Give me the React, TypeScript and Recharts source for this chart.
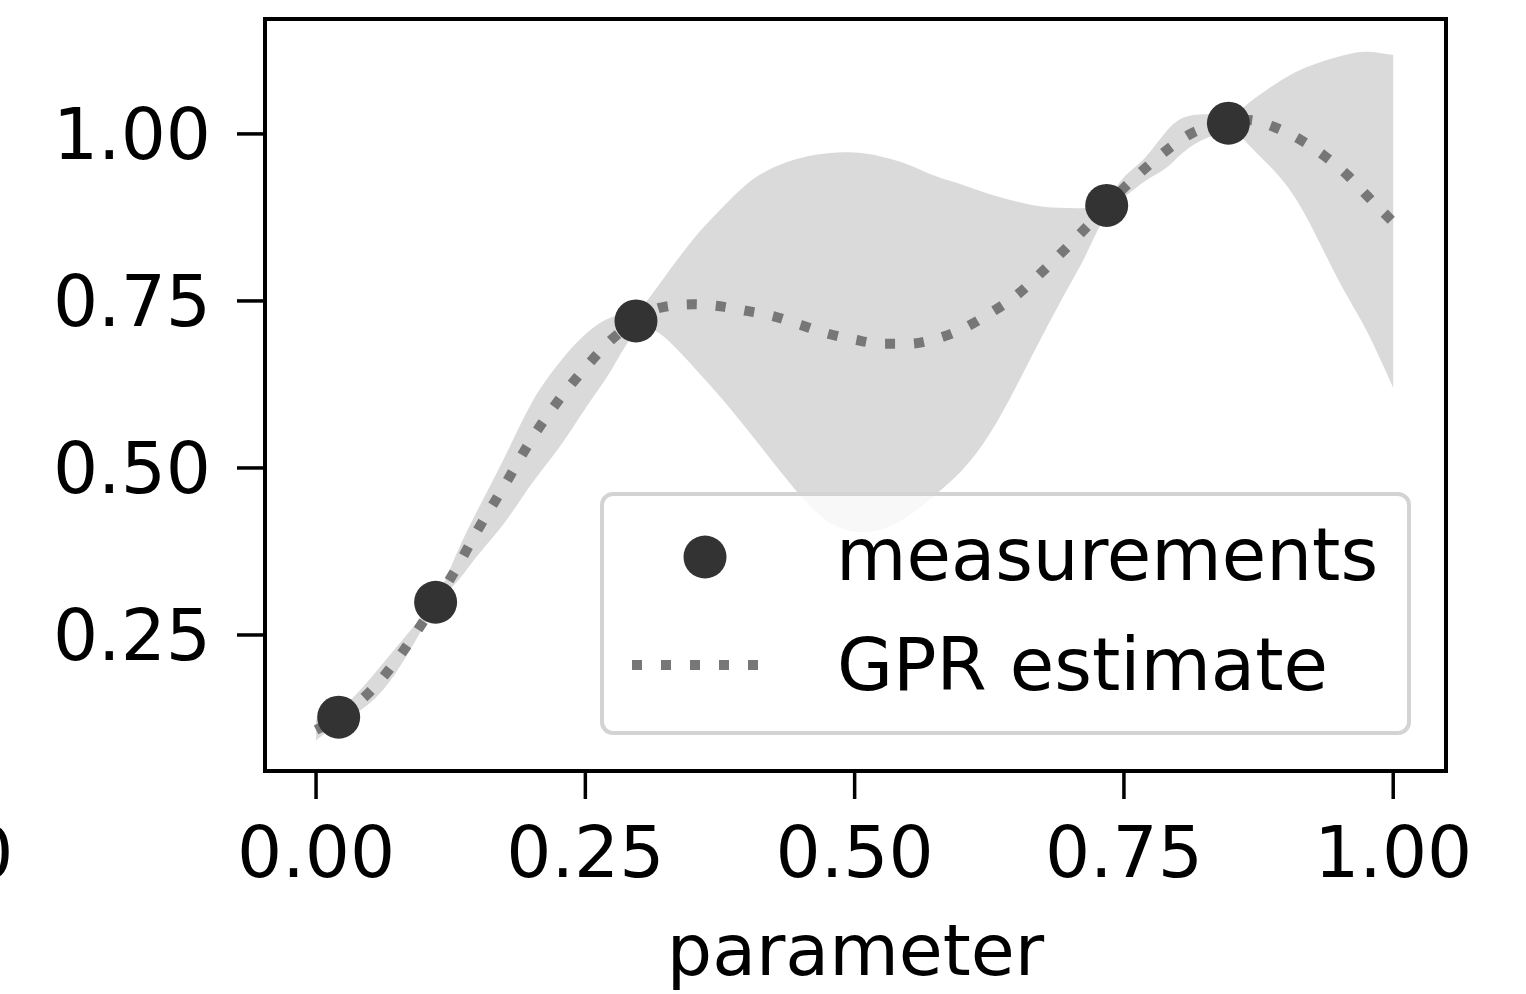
import React from 'react';
import { ComposedChart, Area, Line, Scatter, XAxis, YAxis, ReferenceArea, Legend } from 'recharts';

// grid where the GPR estimate and its band were read off
const gridX = [0, 0.021, 0.05, 0.08, 0.111, 0.13, 0.15, 0.175, 0.2, 0.225, 0.25, 0.275, 0.297, 0.32, 0.35, 0.375, 0.4, 0.425, 0.45, 0.475, 0.5, 0.525, 0.55, 0.575, 0.6, 0.625, 0.65, 0.675, 0.7, 0.715, 0.734, 0.75, 0.77, 0.79, 0.813, 0.847, 0.865, 0.89, 0.914, 0.937, 0.957, 0.976, 1.0];
const gprMean = [0.108, 0.127, 0.165, 0.224, 0.299, 0.349, 0.407, 0.474, 0.543, 0.601, 0.65, 0.693, 0.72, 0.74, 0.745, 0.742, 0.735, 0.727, 0.714, 0.701, 0.692, 0.686, 0.686, 0.693, 0.708, 0.731, 0.758, 0.795, 0.835, 0.86, 0.893, 0.919, 0.949, 0.976, 1.001, 1.016, 1.021, 1.01, 0.991, 0.966, 0.939, 0.907, 0.868];
const bandLow = [0.092, 0.117, 0.148, 0.208, 0.292, 0.328, 0.369, 0.418, 0.476, 0.529, 0.589, 0.649, 0.703, 0.7, 0.652, 0.607, 0.558, 0.507, 0.458, 0.42, 0.405, 0.408, 0.428, 0.46, 0.497, 0.55, 0.622, 0.7, 0.775, 0.82, 0.88, 0.905, 0.93, 0.95, 0.982, 1.003, 0.985, 0.944, 0.891, 0.82, 0.758, 0.703, 0.62];
const bandHigh = [0.124, 0.137, 0.184, 0.242, 0.306, 0.37, 0.437, 0.516, 0.597, 0.656, 0.7, 0.726, 0.735, 0.778, 0.842, 0.886, 0.925, 0.95, 0.964, 0.971, 0.972, 0.966, 0.954, 0.937, 0.924, 0.91, 0.899, 0.891, 0.889, 0.89, 0.905, 0.935, 0.965, 1.005, 1.028, 1.03, 1.045, 1.074, 1.096, 1.11, 1.119, 1.123, 1.118];

const measX = [0.021, 0.111, 0.297, 0.734, 0.847];
const measY = [0.127, 0.299, 0.72, 0.893, 1.016];

const xTicks = [0, 0.25, 0.5, 0.75, 1.0];
const yTicks = [0.25, 0.5, 0.75, 1.0];

const FONT = 'DejaVu Sans';

const curve = gridX.map((x, i) => ({ x, mean: gprMean[i], band: [bandLow[i], bandHigh[i]] }));
const points = measX.map((x, i) => ({ x, y: measY[i] }));

const LegendBox = () => (
  <svg width={811} height={243} style={{ display: 'block' }}>
    <rect x={2} y={2} width={807} height={239} rx={11} ry={11} fill="rgba(255,255,255,0.8)" stroke="#d3d3d3" strokeWidth={4} />
    <circle cx={105} cy={65} r={21.5} fill="#333" />
    <line x1={32} y1={173} x2={176} y2={173} stroke="#777" strokeWidth={10} strokeDasharray="10 19" />
    <text x={236} y={88} fontSize={72.3} fontFamily={FONT} fill="#000">measurements</text>
    <text x={237} y={198} fontSize={72.3} fontFamily={FONT} fill="#000">GPR estimate</text>
  </svg>
);

export default function App() {
  const tickStyle = { fontSize: 71, fill: '#000', fontFamily: FONT };
  const tickLine = { stroke: '#000', strokeWidth: 3.5 };
  return (
    <div style={{ position: 'absolute', left: 0, top: 0, width: 1526, height: 994, background: '#fff', overflow: 'hidden' }}>
      <ComposedChart width={1526} height={994} margin={{ top: 19, right: 80, bottom: 0, left: 0 }}>
        <XAxis
          dataKey="x"
          type="number"
          domain={[-0.0474, 1.049]}
          allowDataOverflow
          ticks={xTicks}
          interval={0}
          tickFormatter={(v) => v.toFixed(2)}
          axisLine={false}
          tickLine={tickLine}
          tickSize={28}
          tickMargin={28}
          tick={tickStyle}
          height={223}
          label={{ value: 'parameter', position: 'insideBottom', offset: 19, fontSize: 71.5, fill: '#000', fontFamily: FONT }}
        />
        <YAxis
          type="number"
          domain={[0.0464, 1.172]}
          allowDataOverflow
          ticks={yTicks}
          interval={0}
          tickFormatter={(v) => v.toFixed(2)}
          axisLine={false}
          tickLine={tickLine}
          tickSize={28}
          tickMargin={26}
          tick={tickStyle}
          width={265}
        />
        <Area
          data={curve}
          type="natural"
          dataKey="band"
          fill="#dadada"
          fillOpacity={1}
          stroke="none"
          isAnimationActive={false}
          legendType="none"
        />
        <Scatter
          data={points}
          dataKey="y"
          isAnimationActive={false}
          shape={(p: any) => <circle cx={p.cx} cy={p.cy} r={21.5} fill="#333" />}
        />
        <Line
          data={curve}
          type="monotone"
          dataKey="mean"
          stroke="#777"
          strokeWidth={10}
          strokeDasharray="10 19"
          dot={false}
          activeDot={false}
          isAnimationActive={false}
        />
        <ReferenceArea
          x1={-0.0474}
          x2={1.049}
          y1={0.0464}
          y2={1.172}
          fill="none"
          stroke="#000"
          strokeWidth={4}
          ifOverflow="visible"
        />
        <Legend
          layout="horizontal"
          verticalAlign="middle"
          align="center"
          content={() => <LegendBox />}
          wrapperStyle={{ position: 'absolute', left: 600, top: 492, bottom: 'auto', width: 811, height: 243 }}
        />
      </ComposedChart>
      {/* edge of the neighbouring panel's tick label, cut by the frame */}
      <svg width={30} height={994} style={{ position: 'absolute', left: 0, top: 0 }}>
        <text x={13.5} y={878} textAnchor="end" fontSize={71} fontFamily={FONT} fill="#000">1.00</text>
      </svg>
    </div>
  );
}
